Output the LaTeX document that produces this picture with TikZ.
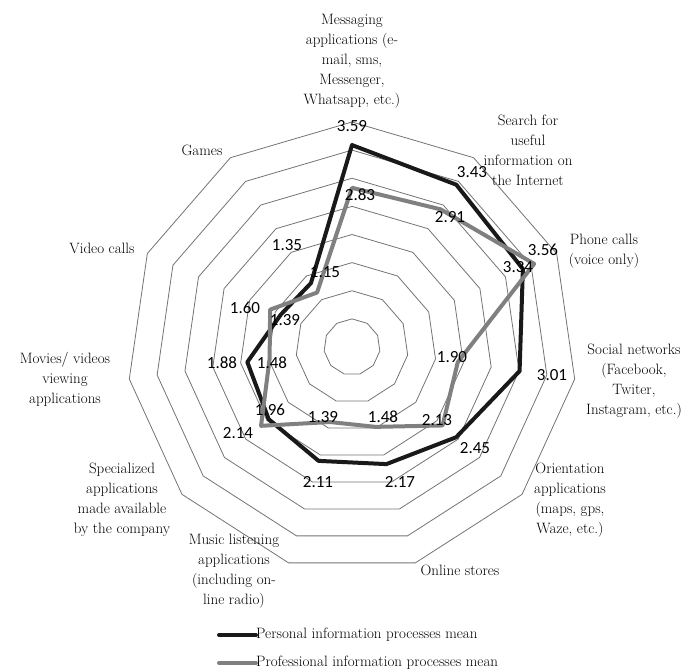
\documentclass[tikz,border=0pt]{standalone}
\usepackage{fontspec}
\newfontfamily\numfont{Carlito}
\begin{document}
\begin{tikzpicture}[x=1pt,y=-1pt,
    grid/.style={black!55, line width=0.8pt},
    personal/.style={black!90, line width=4pt, line join=round, line cap=round},
    professional/.style={black!50, line width=4pt, line join=round, line cap=round},
    cat/.style={align=center, font=\fontsize{15}{20}\selectfont, inner sep=0pt},
    val/.style={font=\numfont\fontsize{17}{17}\selectfont, inner sep=0pt}]
    \useasboundingbox (0,0) rectangle (689,671);

    % Grid (11 axes, 0 to 4 by 0.5)
    \begin{scope}[shift={(352,347)}]
        \foreach \r in {1,...,8}
            \draw[grid] (-90:28.125*\r) \foreach \k in {1,...,10}{ -- (-90+\k*360/11:28.125*\r)} -- cycle;

        % Data points
        \foreach \v [count=\k from 0] in {3.59,3.43,3.34,3.01,2.45,2.17,2.11,1.96,1.88,1.39,1.35}
            \coordinate (A\k) at (-90+\k*360/11:56.25*\v);
        \foreach \v [count=\k from 0] in {2.83,2.91,3.56,1.90,2.13,1.48,1.39,2.14,1.48,1.60,1.15}
            \coordinate (B\k) at (-90+\k*360/11:56.25*\v);

        % Series
        \draw[personal] (A0) \foreach \k in {1,...,10}{ -- (A\k)} -- cycle;
        \draw[professional] (B0) \foreach \k in {1,...,10}{ -- (B\k)} -- cycle;
    \end{scope}

    % Category labels
    \node[cat] (messaging) at (352,61) {Messaging\\applications (e-\\mail, sms,\\Messenger,\\Whatsapp, etc.)};
    \node[cat] (search) at (528,150) {Search for\\useful\\information on\\the Internet};
    \node[cat] (phone) at (604,251) {Phone calls\\(voice only)};
    \node[cat] (social) at (634,381) {Social networks\\(Facebook,\\Twiter,\\Instagram, etc.)};
    \node[cat] (orient) at (570,500) {Orientation\\applications\\(maps, gps,\\Waze, etc.)};
    \node[cat] (stores) at (460,570) {Online stores};
    \node[cat] (music) at (234,571) {Music listening\\applications\\(including on-\\line radio)};
    \node[cat] (special) at (122,500) {Specialized\\applications\\made available\\by the company};
    \node[cat] (movies) at (65,379) {Movies/ videos\\viewing\\applications};
    \node[cat] (video) at (102,248) {Video calls};
    \node[cat] (games) at (202,150) {Games};

    % Value labels
    \node[val] (a0) at (352,126) {3.59};
    \node[val] (a1) at (472,172) {3.43};
    \node[val] (a2) at (518,267) {3.34};
    \node[val] (a3) at (552,375) {3.01};
    \node[val] (a4) at (475,448) {2.45};
    \node[val] (a5) at (400,482) {2.17};
    \node[val] (a6) at (318,482) {2.11};
    \node[val] (a7) at (270,410) {1.96};
    \node[val] (a8) at (222,363) {1.88};
    \node[val] (a9) at (285,320) {1.39};
    \node[val] (a10) at (287,245) {1.35};
    \node[val] (b0) at (360,195) {2.83};
    \node[val] (b1) at (450,217) {2.91};
    \node[val] (b2) at (543,250) {3.56};
    \node[val] (b3) at (452,357) {1.90};
    \node[val] (b4) at (437,420) {2.13};
    \node[val] (b5) at (383,417) {1.48};
    \node[val] (b6) at (323,417) {1.39};
    \node[val] (b7) at (238,433) {2.14};
    \node[val] (b8) at (272,363) {1.48};
    \node[val] (b9) at (245,308) {1.60};
    \node[val] (b10) at (325,272) {1.15};

    % Legend
    \node[cat, anchor=west] (leg1) at (256,635) {Personal information processes mean};
    \node[cat, anchor=west] (leg2) at (256,663) {Professional information processes mean};
    \coordinate (key1) at (219,635);
    \coordinate (key2) at (219,663);
    \draw[personal] (key1) -- (leg1.west);
    \draw[professional] (key2) -- (leg2.west);
\end{tikzpicture}
\end{document}
